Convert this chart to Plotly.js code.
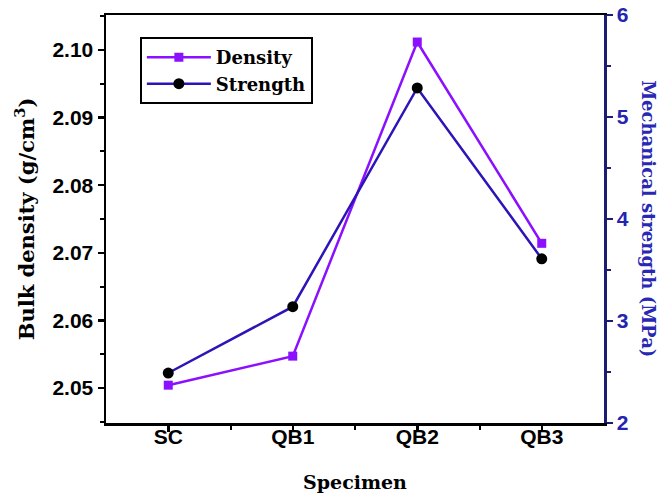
<!DOCTYPE html>
<html>
<head>
<meta charset="utf-8">
<script src="https://cdn.plot.ly/plotly-3.0.1.min.js"></script>
<style>html,body{margin:0;padding:0;background:#fff;}#chart{width:670px;height:496px;}</style>
</head>
<body>
<div id="chart"></div>
<script>
const categories = ["SC", "QB1", "QB2", "QB3"];
const densityValues = [2.0504, 2.0547, 2.1012, 2.0714];
const strengthValues = [2.49, 3.14, 5.285, 3.61];
const seriesNames = ["Density", "Strength"];
const xTitle = "Specimen";
const yLeftTitle = "Bulk density (g/cm<sup>3</sup>)";
const yRightTitle = "Mechanical strength (MPa)";

const xIdx = categories.map((c, i) => i);
const tickFont = {family: "Liberation Sans, Arial, sans-serif", size: 21, weight: "bold", color: "#000"};
const serif = "DejaVu Serif, serif";

const traces = [
  {
    x: xIdx, y: densityValues, name: seriesNames[0], type: "scatter", mode: "lines+markers",
    line: {color: "#8a10ff", width: 2.5},
    marker: {symbol: "square", size: 9, color: "#8a10ff"},
    yaxis: "y"
  },
  {
    x: xIdx, y: strengthValues, name: seriesNames[1], type: "scatter", mode: "lines+markers",
    line: {color: "#2d14b8", width: 2.5},
    marker: {symbol: "circle", size: 11, color: "#000"},
    yaxis: "y2"
  }
];

const layout = {
  width: 670, height: 496,
  margin: {l: 106, r: 66, t: 15, b: 73},
  paper_bgcolor: "#fff", plot_bgcolor: "#fff",
  showlegend: true,
  legend: {
    x: 0.068, y: 0.946, xanchor: "left", yanchor: "top",
    bordercolor: "#000", borderwidth: 2, bgcolor: "#fff",
    font: {family: serif, size: 18, weight: "bold", color: "#000"},
    tracegroupgap: 0, itemwidth: 64, entrywidth: 193, entrywidthmode: "pixels"
  },
  xaxis: {
    range: [-0.5, 3.5],
    tickvals: xIdx, ticktext: categories,
    showline: true, linecolor: "#000", linewidth: 2.5, mirror: true,
    ticks: "outside", ticklen: 6, tickwidth: 2.5, tickcolor: "#000",
    ticklabelstandoff: -13,
    minor: {ticks: "outside", ticklen: 4, tickwidth: 2, tickcolor: "#000", tickvals: [0.5, 1.5, 2.5]},
    showgrid: false, zeroline: false,
    tickfont: tickFont,
    title: {text: xTitle, font: {family: serif, size: 19, weight: "bold", color: "#000"}, standoff: 29}
  },
  yaxis: {
    range: [2.0448, 2.1052],
    dtick: 0.01, tick0: 2.0, tickformat: ".2f",
    showline: true, linecolor: "#000", linewidth: 2.5,
    ticks: "outside", ticklen: 6, tickwidth: 2.5, tickcolor: "#000",
    minor: {ticks: "outside", ticklen: 4, tickwidth: 2, tickcolor: "#000", dtick: 0.005},
    showgrid: false, zeroline: false,
    tickfont: tickFont,
    title: {text: yLeftTitle, font: {family: serif, size: 21, weight: "bold", color: "#000"}, standoff: 12}
  },
  yaxis2: {
    overlaying: "y", side: "right",
    range: [2, 6], dtick: 1,
    showline: true, linecolor: "#1c1c70", linewidth: 2.5,
    ticks: "outside", ticklen: 6, tickwidth: 2.5, tickcolor: "#1c1c70",
    minor: {ticks: "outside", ticklen: 4, tickwidth: 2, tickcolor: "#1c1c70", dtick: 0.5},
    showgrid: false, zeroline: false,
    tickfont: {family: "Liberation Sans, Arial, sans-serif", size: 21, weight: "bold", color: "#2424b0"}
  },
  annotations: [
    {
      text: yRightTitle, xref: "paper", yref: "paper", x: 1.09, y: 0.5,
      xanchor: "center", yanchor: "middle", textangle: 90, showarrow: false,
      font: {family: serif, size: 18, weight: "bold", color: "#2828b4"}
    }
  ]
};

Plotly.newPlot("chart", traces, layout, {displayModeBar: false, staticPlot: true});
</script>
</body>
</html>
